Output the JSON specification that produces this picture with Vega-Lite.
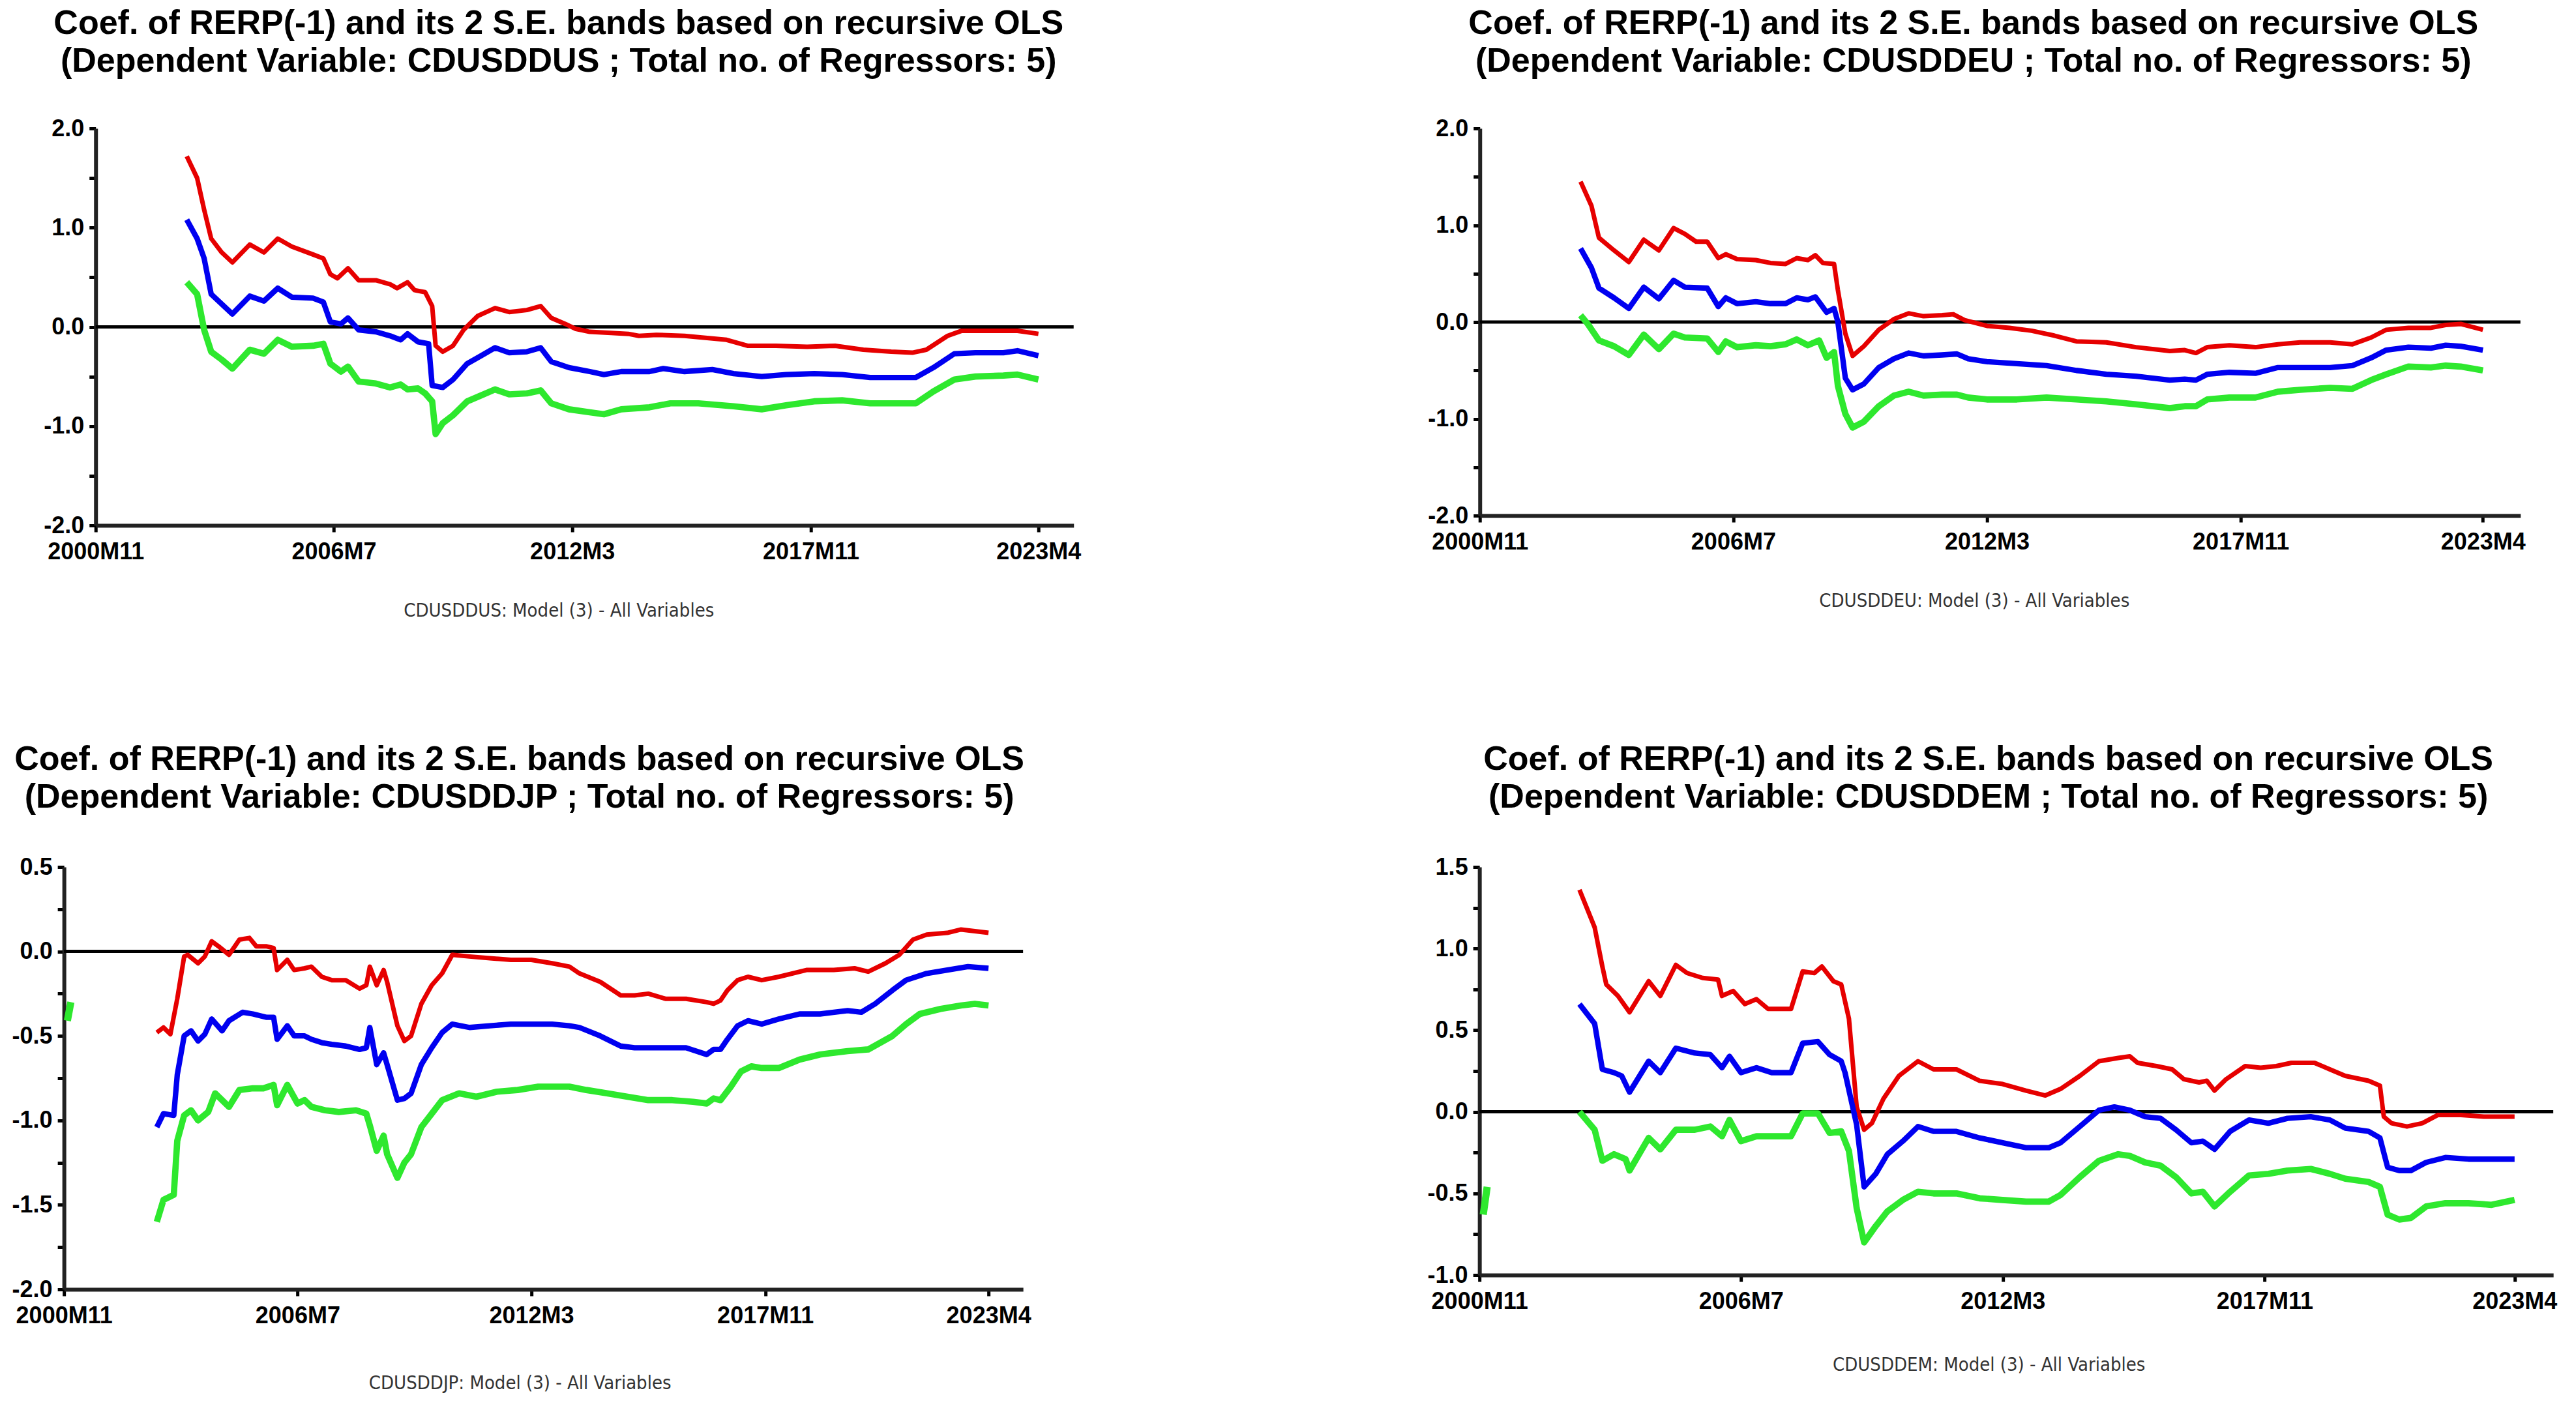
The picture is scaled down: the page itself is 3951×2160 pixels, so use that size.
{
  "$schema": "https://vega.github.io/schema/vega-lite/v6.json",
  "background": "white",
  "padding": {"left": 18, "top": 10, "right": 10, "bottom": 10},
  "config": {
    "view": {"stroke": null},
    "title": {"font": "Liberation Sans", "fontSize": 52, "fontWeight": "bold", "color": "black", "lineHeight": 58, "anchor": "middle"},
    "axis": {
      "grid": false,
      "domainColor": "#222222", "domainWidth": 6,
      "tickColor": "black", "tickWidth": 5, "tickSize": 10,
      "labelFont": "Liberation Sans", "labelFontSize": 36, "labelFontWeight": "bold", "labelColor": "black",
      "labelPadding": 8, "labelOverlap": false, "labelFlush": false,
      "titleFont": "Liberation Sans Narrow, DejaVu Sans Condensed, Liberation Sans", "titleFontSize": 29, "titleFontWeight": "normal", "titleColor": "#333333"
    },
    "axisX": {"labelPadding": 13}
  },
  "datasets": {
    "us": [
      {"s":"lower","d":"2003-01","v":0.45},{"s":"lower","d":"2003-04","v":0.33},{"s":"lower","d":"2003-06","v":-0.03},{"s":"lower","d":"2003-08","v":-0.25},{"s":"lower","d":"2003-11","v":-0.33},{"s":"lower","d":"2004-02","v":-0.42},{"s":"lower","d":"2004-07","v":-0.23},{"s":"lower","d":"2004-11","v":-0.27},{"s":"lower","d":"2005-03","v":-0.13},{"s":"lower","d":"2005-07","v":-0.20},{"s":"lower","d":"2006-01","v":-0.19},{"s":"lower","d":"2006-04","v":-0.17},{"s":"lower","d":"2006-06","v":-0.37},{"s":"lower","d":"2006-09","v":-0.45},{"s":"lower","d":"2006-11","v":-0.40},{"s":"lower","d":"2007-02","v":-0.55},{"s":"lower","d":"2007-07","v":-0.57},{"s":"lower","d":"2007-11","v":-0.61},{"s":"lower","d":"2008-02","v":-0.58},{"s":"lower","d":"2008-04","v":-0.63},{"s":"lower","d":"2008-07","v":-0.62},{"s":"lower","d":"2008-09","v":-0.67},{"s":"lower","d":"2008-11","v":-0.75},{"s":"lower","d":"2008-12","v":-1.08},{"s":"lower","d":"2009-02","v":-0.97},{"s":"lower","d":"2009-05","v":-0.89},{"s":"lower","d":"2009-09","v":-0.75},{"s":"lower","d":"2010-01","v":-0.69},{"s":"lower","d":"2010-05","v":-0.63},{"s":"lower","d":"2010-09","v":-0.68},{"s":"lower","d":"2011-02","v":-0.67},{"s":"lower","d":"2011-06","v":-0.64},{"s":"lower","d":"2011-09","v":-0.77},{"s":"lower","d":"2012-02","v":-0.83},{"s":"lower","d":"2012-08","v":-0.86},{"s":"lower","d":"2012-12","v":-0.88},{"s":"lower","d":"2013-05","v":-0.83},{"s":"lower","d":"2014-01","v":-0.81},{"s":"lower","d":"2014-07","v":-0.77},{"s":"lower","d":"2015-03","v":-0.77},{"s":"lower","d":"2016-01","v":-0.80},{"s":"lower","d":"2016-09","v":-0.83},{"s":"lower","d":"2017-04","v":-0.79},{"s":"lower","d":"2017-12","v":-0.75},{"s":"lower","d":"2018-08","v":-0.74},{"s":"lower","d":"2019-04","v":-0.77},{"s":"lower","d":"2019-12","v":-0.77},{"s":"lower","d":"2020-05","v":-0.77},{"s":"lower","d":"2020-10","v":-0.65},{"s":"lower","d":"2021-04","v":-0.53},{"s":"lower","d":"2021-10","v":-0.50},{"s":"lower","d":"2022-06","v":-0.49},{"s":"lower","d":"2022-10","v":-0.48},{"s":"lower","d":"2023-04","v":-0.53},
      {"s":"upper","d":"2003-01","v":1.72},{"s":"upper","d":"2003-04","v":1.50},{"s":"upper","d":"2003-06","v":1.18},{"s":"upper","d":"2003-08","v":0.89},{"s":"upper","d":"2003-11","v":0.75},{"s":"upper","d":"2004-02","v":0.65},{"s":"upper","d":"2004-07","v":0.83},{"s":"upper","d":"2004-11","v":0.75},{"s":"upper","d":"2005-03","v":0.89},{"s":"upper","d":"2005-07","v":0.81},{"s":"upper","d":"2006-01","v":0.73},{"s":"upper","d":"2006-04","v":0.69},{"s":"upper","d":"2006-06","v":0.53},{"s":"upper","d":"2006-08","v":0.49},{"s":"upper","d":"2006-11","v":0.59},{"s":"upper","d":"2007-02","v":0.47},{"s":"upper","d":"2007-07","v":0.47},{"s":"upper","d":"2007-11","v":0.43},{"s":"upper","d":"2008-01","v":0.39},{"s":"upper","d":"2008-04","v":0.45},{"s":"upper","d":"2008-06","v":0.37},{"s":"upper","d":"2008-09","v":0.35},{"s":"upper","d":"2008-11","v":0.21},{"s":"upper","d":"2008-12","v":-0.19},{"s":"upper","d":"2009-02","v":-0.25},{"s":"upper","d":"2009-05","v":-0.19},{"s":"upper","d":"2009-08","v":-0.03},{"s":"upper","d":"2009-12","v":0.11},{"s":"upper","d":"2010-05","v":0.19},{"s":"upper","d":"2010-09","v":0.15},{"s":"upper","d":"2011-02","v":0.17},{"s":"upper","d":"2011-06","v":0.21},{"s":"upper","d":"2011-09","v":0.09},{"s":"upper","d":"2012-01","v":0.03},{"s":"upper","d":"2012-04","v":-0.02},{"s":"upper","d":"2012-08","v":-0.05},{"s":"upper","d":"2013-02","v":-0.06},{"s":"upper","d":"2013-07","v":-0.07},{"s":"upper","d":"2013-10","v":-0.09},{"s":"upper","d":"2014-03","v":-0.08},{"s":"upper","d":"2014-11","v":-0.09},{"s":"upper","d":"2015-05","v":-0.11},{"s":"upper","d":"2015-11","v":-0.13},{"s":"upper","d":"2016-05","v":-0.19},{"s":"upper","d":"2017-01","v":-0.19},{"s":"upper","d":"2017-10","v":-0.20},{"s":"upper","d":"2018-06","v":-0.19},{"s":"upper","d":"2019-02","v":-0.23},{"s":"upper","d":"2019-10","v":-0.25},{"s":"upper","d":"2020-04","v":-0.26},{"s":"upper","d":"2020-08","v":-0.23},{"s":"upper","d":"2021-02","v":-0.09},{"s":"upper","d":"2021-06","v":-0.04},{"s":"upper","d":"2022-02","v":-0.04},{"s":"upper","d":"2022-10","v":-0.04},{"s":"upper","d":"2023-04","v":-0.07},
      {"s":"coef","d":"2003-01","v":1.08},{"s":"coef","d":"2003-04","v":0.89},{"s":"coef","d":"2003-06","v":0.69},{"s":"coef","d":"2003-08","v":0.33},{"s":"coef","d":"2003-11","v":0.23},{"s":"coef","d":"2004-02","v":0.13},{"s":"coef","d":"2004-07","v":0.31},{"s":"coef","d":"2004-11","v":0.26},{"s":"coef","d":"2005-03","v":0.39},{"s":"coef","d":"2005-07","v":0.30},{"s":"coef","d":"2006-01","v":0.29},{"s":"coef","d":"2006-04","v":0.25},{"s":"coef","d":"2006-06","v":0.05},{"s":"coef","d":"2006-09","v":0.03},{"s":"coef","d":"2006-11","v":0.09},{"s":"coef","d":"2007-02","v":-0.03},{"s":"coef","d":"2007-07","v":-0.05},{"s":"coef","d":"2007-11","v":-0.09},{"s":"coef","d":"2008-02","v":-0.13},{"s":"coef","d":"2008-04","v":-0.07},{"s":"coef","d":"2008-07","v":-0.15},{"s":"coef","d":"2008-10","v":-0.17},{"s":"coef","d":"2008-11","v":-0.59},{"s":"coef","d":"2009-02","v":-0.61},{"s":"coef","d":"2009-05","v":-0.53},{"s":"coef","d":"2009-09","v":-0.37},{"s":"coef","d":"2010-01","v":-0.29},{"s":"coef","d":"2010-05","v":-0.21},{"s":"coef","d":"2010-09","v":-0.26},{"s":"coef","d":"2011-02","v":-0.25},{"s":"coef","d":"2011-06","v":-0.21},{"s":"coef","d":"2011-09","v":-0.35},{"s":"coef","d":"2012-02","v":-0.41},{"s":"coef","d":"2012-08","v":-0.45},{"s":"coef","d":"2012-12","v":-0.48},{"s":"coef","d":"2013-05","v":-0.45},{"s":"coef","d":"2014-01","v":-0.45},{"s":"coef","d":"2014-05","v":-0.42},{"s":"coef","d":"2014-11","v":-0.45},{"s":"coef","d":"2015-07","v":-0.43},{"s":"coef","d":"2016-01","v":-0.47},{"s":"coef","d":"2016-09","v":-0.50},{"s":"coef","d":"2017-04","v":-0.48},{"s":"coef","d":"2017-12","v":-0.47},{"s":"coef","d":"2018-08","v":-0.48},{"s":"coef","d":"2019-04","v":-0.51},{"s":"coef","d":"2019-12","v":-0.51},{"s":"coef","d":"2020-05","v":-0.51},{"s":"coef","d":"2020-10","v":-0.41},{"s":"coef","d":"2021-04","v":-0.27},{"s":"coef","d":"2021-10","v":-0.26},{"s":"coef","d":"2022-06","v":-0.26},{"s":"coef","d":"2022-10","v":-0.24},{"s":"coef","d":"2023-04","v":-0.29}
    ],
    "eu": [
      {"s":"lower","d":"2003-02","v":0.07},{"s":"lower","d":"2003-04","v":-0.02},{"s":"lower","d":"2003-07","v":-0.19},{"s":"lower","d":"2003-11","v":-0.25},{"s":"lower","d":"2004-03","v":-0.34},{"s":"lower","d":"2004-07","v":-0.13},{"s":"lower","d":"2004-11","v":-0.28},{"s":"lower","d":"2005-03","v":-0.12},{"s":"lower","d":"2005-06","v":-0.16},{"s":"lower","d":"2005-12","v":-0.17},{"s":"lower","d":"2006-03","v":-0.31},{"s":"lower","d":"2006-05","v":-0.20},{"s":"lower","d":"2006-08","v":-0.26},{"s":"lower","d":"2007-01","v":-0.24},{"s":"lower","d":"2007-05","v":-0.25},{"s":"lower","d":"2007-09","v":-0.23},{"s":"lower","d":"2007-12","v":-0.18},{"s":"lower","d":"2008-03","v":-0.24},{"s":"lower","d":"2008-06","v":-0.19},{"s":"lower","d":"2008-08","v":-0.37},{"s":"lower","d":"2008-10","v":-0.31},{"s":"lower","d":"2008-11","v":-0.66},{"s":"lower","d":"2009-01","v":-0.95},{"s":"lower","d":"2009-03","v":-1.09},{"s":"lower","d":"2009-06","v":-1.03},{"s":"lower","d":"2009-10","v":-0.87},{"s":"lower","d":"2010-02","v":-0.76},{"s":"lower","d":"2010-06","v":-0.72},{"s":"lower","d":"2010-10","v":-0.76},{"s":"lower","d":"2011-03","v":-0.75},{"s":"lower","d":"2011-07","v":-0.75},{"s":"lower","d":"2011-10","v":-0.78},{"s":"lower","d":"2012-03","v":-0.80},{"s":"lower","d":"2012-11","v":-0.80},{"s":"lower","d":"2013-07","v":-0.78},{"s":"lower","d":"2014-03","v":-0.80},{"s":"lower","d":"2014-11","v":-0.82},{"s":"lower","d":"2015-07","v":-0.85},{"s":"lower","d":"2016-04","v":-0.89},{"s":"lower","d":"2016-08","v":-0.87},{"s":"lower","d":"2016-11","v":-0.87},{"s":"lower","d":"2017-02","v":-0.80},{"s":"lower","d":"2017-08","v":-0.78},{"s":"lower","d":"2018-03","v":-0.78},{"s":"lower","d":"2018-09","v":-0.72},{"s":"lower","d":"2019-03","v":-0.70},{"s":"lower","d":"2019-11","v":-0.68},{"s":"lower","d":"2020-05","v":-0.69},{"s":"lower","d":"2020-10","v":-0.60},{"s":"lower","d":"2021-02","v":-0.54},{"s":"lower","d":"2021-08","v":-0.46},{"s":"lower","d":"2022-02","v":-0.47},{"s":"lower","d":"2022-06","v":-0.45},{"s":"lower","d":"2022-10","v":-0.46},{"s":"lower","d":"2023-04","v":-0.50},
      {"s":"upper","d":"2003-02","v":1.45},{"s":"upper","d":"2003-05","v":1.20},{"s":"upper","d":"2003-07","v":0.87},{"s":"upper","d":"2003-11","v":0.74},{"s":"upper","d":"2004-03","v":0.62},{"s":"upper","d":"2004-07","v":0.85},{"s":"upper","d":"2004-11","v":0.74},{"s":"upper","d":"2005-03","v":0.97},{"s":"upper","d":"2005-06","v":0.91},{"s":"upper","d":"2005-09","v":0.83},{"s":"upper","d":"2005-12","v":0.83},{"s":"upper","d":"2006-03","v":0.66},{"s":"upper","d":"2006-05","v":0.70},{"s":"upper","d":"2006-08","v":0.65},{"s":"upper","d":"2007-01","v":0.64},{"s":"upper","d":"2007-05","v":0.61},{"s":"upper","d":"2007-09","v":0.60},{"s":"upper","d":"2007-12","v":0.66},{"s":"upper","d":"2008-03","v":0.64},{"s":"upper","d":"2008-05","v":0.69},{"s":"upper","d":"2008-07","v":0.61},{"s":"upper","d":"2008-10","v":0.60},{"s":"upper","d":"2008-11","v":0.33},{"s":"upper","d":"2009-01","v":-0.12},{"s":"upper","d":"2009-03","v":-0.35},{"s":"upper","d":"2009-06","v":-0.25},{"s":"upper","d":"2009-10","v":-0.08},{"s":"upper","d":"2010-02","v":0.03},{"s":"upper","d":"2010-06","v":0.09},{"s":"upper","d":"2010-10","v":0.06},{"s":"upper","d":"2011-03","v":0.07},{"s":"upper","d":"2011-06","v":0.08},{"s":"upper","d":"2011-09","v":0.02},{"s":"upper","d":"2012-03","v":-0.04},{"s":"upper","d":"2012-09","v":-0.06},{"s":"upper","d":"2013-03","v":-0.09},{"s":"upper","d":"2013-09","v":-0.14},{"s":"upper","d":"2014-03","v":-0.20},{"s":"upper","d":"2014-11","v":-0.21},{"s":"upper","d":"2015-07","v":-0.26},{"s":"upper","d":"2016-04","v":-0.30},{"s":"upper","d":"2016-08","v":-0.29},{"s":"upper","d":"2016-11","v":-0.32},{"s":"upper","d":"2017-02","v":-0.26},{"s":"upper","d":"2017-08","v":-0.24},{"s":"upper","d":"2018-03","v":-0.26},{"s":"upper","d":"2018-09","v":-0.23},{"s":"upper","d":"2019-03","v":-0.21},{"s":"upper","d":"2019-11","v":-0.21},{"s":"upper","d":"2020-05","v":-0.23},{"s":"upper","d":"2020-10","v":-0.16},{"s":"upper","d":"2021-02","v":-0.08},{"s":"upper","d":"2021-08","v":-0.06},{"s":"upper","d":"2022-02","v":-0.06},{"s":"upper","d":"2022-06","v":-0.03},{"s":"upper","d":"2022-10","v":-0.02},{"s":"upper","d":"2023-04","v":-0.08},
      {"s":"coef","d":"2003-02","v":0.76},{"s":"coef","d":"2003-05","v":0.56},{"s":"coef","d":"2003-07","v":0.35},{"s":"coef","d":"2003-11","v":0.25},{"s":"coef","d":"2004-03","v":0.14},{"s":"coef","d":"2004-07","v":0.36},{"s":"coef","d":"2004-11","v":0.24},{"s":"coef","d":"2005-03","v":0.43},{"s":"coef","d":"2005-06","v":0.36},{"s":"coef","d":"2005-12","v":0.35},{"s":"coef","d":"2006-03","v":0.16},{"s":"coef","d":"2006-05","v":0.25},{"s":"coef","d":"2006-08","v":0.19},{"s":"coef","d":"2007-01","v":0.21},{"s":"coef","d":"2007-05","v":0.19},{"s":"coef","d":"2007-09","v":0.19},{"s":"coef","d":"2007-12","v":0.25},{"s":"coef","d":"2008-03","v":0.23},{"s":"coef","d":"2008-05","v":0.26},{"s":"coef","d":"2008-08","v":0.10},{"s":"coef","d":"2008-10","v":0.14},{"s":"coef","d":"2008-11","v":0.00},{"s":"coef","d":"2009-01","v":-0.58},{"s":"coef","d":"2009-03","v":-0.70},{"s":"coef","d":"2009-06","v":-0.64},{"s":"coef","d":"2009-10","v":-0.47},{"s":"coef","d":"2010-02","v":-0.38},{"s":"coef","d":"2010-06","v":-0.32},{"s":"coef","d":"2010-10","v":-0.35},{"s":"coef","d":"2011-03","v":-0.34},{"s":"coef","d":"2011-07","v":-0.33},{"s":"coef","d":"2011-10","v":-0.38},{"s":"coef","d":"2012-03","v":-0.41},{"s":"coef","d":"2012-11","v":-0.43},{"s":"coef","d":"2013-07","v":-0.45},{"s":"coef","d":"2014-03","v":-0.50},{"s":"coef","d":"2014-11","v":-0.54},{"s":"coef","d":"2015-07","v":-0.56},{"s":"coef","d":"2016-04","v":-0.60},{"s":"coef","d":"2016-08","v":-0.59},{"s":"coef","d":"2016-11","v":-0.60},{"s":"coef","d":"2017-02","v":-0.54},{"s":"coef","d":"2017-08","v":-0.52},{"s":"coef","d":"2018-03","v":-0.53},{"s":"coef","d":"2018-09","v":-0.47},{"s":"coef","d":"2019-03","v":-0.47},{"s":"coef","d":"2019-11","v":-0.47},{"s":"coef","d":"2020-05","v":-0.45},{"s":"coef","d":"2020-10","v":-0.37},{"s":"coef","d":"2021-02","v":-0.29},{"s":"coef","d":"2021-08","v":-0.26},{"s":"coef","d":"2022-02","v":-0.27},{"s":"coef","d":"2022-06","v":-0.24},{"s":"coef","d":"2022-10","v":-0.25},{"s":"coef","d":"2023-04","v":-0.29}
    ],
    "jp": [
      {"s":"lower0","d":"2000-12","v":-0.41},{"s":"lower0","d":"2001-01","v":-0.30},
      {"s":"lower","d":"2003-02","v":-1.60},{"s":"lower","d":"2003-04","v":-1.47},{"s":"lower","d":"2003-07","v":-1.44},{"s":"lower","d":"2003-08","v":-1.12},{"s":"lower","d":"2003-10","v":-0.97},{"s":"lower","d":"2003-12","v":-0.94},{"s":"lower","d":"2004-02","v":-1.00},{"s":"lower","d":"2004-05","v":-0.95},{"s":"lower","d":"2004-07","v":-0.84},{"s":"lower","d":"2004-11","v":-0.92},{"s":"lower","d":"2005-02","v":-0.82},{"s":"lower","d":"2005-06","v":-0.81},{"s":"lower","d":"2005-09","v":-0.81},{"s":"lower","d":"2005-12","v":-0.79},{"s":"lower","d":"2006-01","v":-0.91},{"s":"lower","d":"2006-04","v":-0.79},{"s":"lower","d":"2006-07","v":-0.90},{"s":"lower","d":"2006-09","v":-0.88},{"s":"lower","d":"2006-11","v":-0.92},{"s":"lower","d":"2007-03","v":-0.94},{"s":"lower","d":"2007-07","v":-0.95},{"s":"lower","d":"2007-12","v":-0.94},{"s":"lower","d":"2008-03","v":-0.96},{"s":"lower","d":"2008-04","v":-1.03},{"s":"lower","d":"2008-06","v":-1.18},{"s":"lower","d":"2008-08","v":-1.09},{"s":"lower","d":"2008-09","v":-1.20},{"s":"lower","d":"2008-12","v":-1.34},{"s":"lower","d":"2009-02","v":-1.25},{"s":"lower","d":"2009-04","v":-1.20},{"s":"lower","d":"2009-07","v":-1.04},{"s":"lower","d":"2009-10","v":-0.96},{"s":"lower","d":"2010-01","v":-0.88},{"s":"lower","d":"2010-06","v":-0.84},{"s":"lower","d":"2010-11","v":-0.86},{"s":"lower","d":"2011-05","v":-0.83},{"s":"lower","d":"2011-11","v":-0.82},{"s":"lower","d":"2012-05","v":-0.80},{"s":"lower","d":"2013-02","v":-0.80},{"s":"lower","d":"2013-07","v":-0.82},{"s":"lower","d":"2014-01","v":-0.84},{"s":"lower","d":"2014-07","v":-0.86},{"s":"lower","d":"2015-01","v":-0.88},{"s":"lower","d":"2015-08","v":-0.88},{"s":"lower","d":"2016-02","v":-0.89},{"s":"lower","d":"2016-06","v":-0.90},{"s":"lower","d":"2016-08","v":-0.87},{"s":"lower","d":"2016-10","v":-0.88},{"s":"lower","d":"2017-01","v":-0.80},{"s":"lower","d":"2017-04","v":-0.71},{"s":"lower","d":"2017-07","v":-0.68},{"s":"lower","d":"2017-10","v":-0.69},{"s":"lower","d":"2018-03","v":-0.69},{"s":"lower","d":"2018-09","v":-0.64},{"s":"lower","d":"2019-03","v":-0.61},{"s":"lower","d":"2019-11","v":-0.59},{"s":"lower","d":"2020-05","v":-0.58},{"s":"lower","d":"2020-12","v":-0.50},{"s":"lower","d":"2021-04","v":-0.43},{"s":"lower","d":"2021-08","v":-0.37},{"s":"lower","d":"2022-02","v":-0.34},{"s":"lower","d":"2022-08","v":-0.32},{"s":"lower","d":"2022-12","v":-0.31},{"s":"lower","d":"2023-04","v":-0.32},
      {"s":"upper","d":"2003-02","v":-0.48},{"s":"upper","d":"2003-04","v":-0.45},{"s":"upper","d":"2003-06","v":-0.49},{"s":"upper","d":"2003-08","v":-0.28},{"s":"upper","d":"2003-10","v":-0.03},{"s":"upper","d":"2003-11","v":-0.02},{"s":"upper","d":"2004-02","v":-0.07},{"s":"upper","d":"2004-04","v":-0.03},{"s":"upper","d":"2004-06","v":0.06},{"s":"upper","d":"2004-08","v":0.03},{"s":"upper","d":"2004-11","v":-0.02},{"s":"upper","d":"2005-02","v":0.07},{"s":"upper","d":"2005-05","v":0.08},{"s":"upper","d":"2005-07","v":0.03},{"s":"upper","d":"2005-10","v":0.03},{"s":"upper","d":"2005-12","v":0.02},{"s":"upper","d":"2006-01","v":-0.11},{"s":"upper","d":"2006-04","v":-0.05},{"s":"upper","d":"2006-06","v":-0.11},{"s":"upper","d":"2006-09","v":-0.10},{"s":"upper","d":"2006-11","v":-0.09},{"s":"upper","d":"2007-02","v":-0.15},{"s":"upper","d":"2007-05","v":-0.17},{"s":"upper","d":"2007-09","v":-0.17},{"s":"upper","d":"2008-01","v":-0.22},{"s":"upper","d":"2008-03","v":-0.20},{"s":"upper","d":"2008-04","v":-0.09},{"s":"upper","d":"2008-06","v":-0.20},{"s":"upper","d":"2008-08","v":-0.11},{"s":"upper","d":"2008-09","v":-0.18},{"s":"upper","d":"2008-12","v":-0.44},{"s":"upper","d":"2009-02","v":-0.53},{"s":"upper","d":"2009-04","v":-0.50},{"s":"upper","d":"2009-07","v":-0.31},{"s":"upper","d":"2009-10","v":-0.20},{"s":"upper","d":"2010-01","v":-0.13},{"s":"upper","d":"2010-04","v":-0.02},{"s":"upper","d":"2010-09","v":-0.03},{"s":"upper","d":"2011-03","v":-0.04},{"s":"upper","d":"2011-09","v":-0.05},{"s":"upper","d":"2012-03","v":-0.05},{"s":"upper","d":"2012-09","v":-0.07},{"s":"upper","d":"2013-02","v":-0.09},{"s":"upper","d":"2013-05","v":-0.13},{"s":"upper","d":"2013-11","v":-0.18},{"s":"upper","d":"2014-05","v":-0.26},{"s":"upper","d":"2014-09","v":-0.26},{"s":"upper","d":"2015-01","v":-0.25},{"s":"upper","d":"2015-06","v":-0.28},{"s":"upper","d":"2015-12","v":-0.28},{"s":"upper","d":"2016-06","v":-0.30},{"s":"upper","d":"2016-08","v":-0.31},{"s":"upper","d":"2016-10","v":-0.29},{"s":"upper","d":"2016-12","v":-0.23},{"s":"upper","d":"2017-03","v":-0.17},{"s":"upper","d":"2017-06","v":-0.15},{"s":"upper","d":"2017-10","v":-0.17},{"s":"upper","d":"2018-03","v":-0.15},{"s":"upper","d":"2018-11","v":-0.11},{"s":"upper","d":"2019-07","v":-0.11},{"s":"upper","d":"2020-01","v":-0.10},{"s":"upper","d":"2020-05","v":-0.12},{"s":"upper","d":"2020-10","v":-0.07},{"s":"upper","d":"2021-02","v":-0.02},{"s":"upper","d":"2021-06","v":0.07},{"s":"upper","d":"2021-10","v":0.10},{"s":"upper","d":"2022-04","v":0.11},{"s":"upper","d":"2022-08","v":0.13},{"s":"upper","d":"2022-12","v":0.12},{"s":"upper","d":"2023-04","v":0.11},
      {"s":"coef","d":"2003-02","v":-1.04},{"s":"coef","d":"2003-04","v":-0.96},{"s":"coef","d":"2003-07","v":-0.97},{"s":"coef","d":"2003-08","v":-0.73},{"s":"coef","d":"2003-10","v":-0.50},{"s":"coef","d":"2003-12","v":-0.47},{"s":"coef","d":"2004-02","v":-0.53},{"s":"coef","d":"2004-04","v":-0.49},{"s":"coef","d":"2004-06","v":-0.40},{"s":"coef","d":"2004-09","v":-0.47},{"s":"coef","d":"2004-11","v":-0.41},{"s":"coef","d":"2005-03","v":-0.36},{"s":"coef","d":"2005-06","v":-0.37},{"s":"coef","d":"2005-10","v":-0.39},{"s":"coef","d":"2005-12","v":-0.39},{"s":"coef","d":"2006-01","v":-0.52},{"s":"coef","d":"2006-04","v":-0.44},{"s":"coef","d":"2006-06","v":-0.50},{"s":"coef","d":"2006-09","v":-0.50},{"s":"coef","d":"2006-11","v":-0.52},{"s":"coef","d":"2007-02","v":-0.54},{"s":"coef","d":"2007-05","v":-0.55},{"s":"coef","d":"2007-09","v":-0.56},{"s":"coef","d":"2008-01","v":-0.58},{"s":"coef","d":"2008-03","v":-0.57},{"s":"coef","d":"2008-04","v":-0.45},{"s":"coef","d":"2008-06","v":-0.67},{"s":"coef","d":"2008-08","v":-0.60},{"s":"coef","d":"2008-09","v":-0.67},{"s":"coef","d":"2008-12","v":-0.88},{"s":"coef","d":"2009-02","v":-0.87},{"s":"coef","d":"2009-04","v":-0.84},{"s":"coef","d":"2009-07","v":-0.67},{"s":"coef","d":"2009-10","v":-0.57},{"s":"coef","d":"2010-01","v":-0.48},{"s":"coef","d":"2010-04","v":-0.43},{"s":"coef","d":"2010-09","v":-0.45},{"s":"coef","d":"2011-03","v":-0.44},{"s":"coef","d":"2011-09","v":-0.43},{"s":"coef","d":"2012-03","v":-0.43},{"s":"coef","d":"2012-09","v":-0.43},{"s":"coef","d":"2013-02","v":-0.44},{"s":"coef","d":"2013-05","v":-0.45},{"s":"coef","d":"2013-11","v":-0.50},{"s":"coef","d":"2014-05","v":-0.56},{"s":"coef","d":"2014-09","v":-0.57},{"s":"coef","d":"2015-01","v":-0.57},{"s":"coef","d":"2015-06","v":-0.57},{"s":"coef","d":"2015-12","v":-0.57},{"s":"coef","d":"2016-06","v":-0.61},{"s":"coef","d":"2016-08","v":-0.58},{"s":"coef","d":"2016-10","v":-0.58},{"s":"coef","d":"2016-12","v":-0.52},{"s":"coef","d":"2017-03","v":-0.44},{"s":"coef","d":"2017-06","v":-0.41},{"s":"coef","d":"2017-10","v":-0.43},{"s":"coef","d":"2018-03","v":-0.40},{"s":"coef","d":"2018-09","v":-0.37},{"s":"coef","d":"2019-03","v":-0.37},{"s":"coef","d":"2019-11","v":-0.35},{"s":"coef","d":"2020-03","v":-0.36},{"s":"coef","d":"2020-07","v":-0.31},{"s":"coef","d":"2020-12","v":-0.23},{"s":"coef","d":"2021-04","v":-0.17},{"s":"coef","d":"2021-10","v":-0.13},{"s":"coef","d":"2022-04","v":-0.11},{"s":"coef","d":"2022-10","v":-0.09},{"s":"coef","d":"2023-04","v":-0.10}
    ],
    "em": [
      {"s":"lower0","d":"2000-12","v":-0.63},{"s":"lower0","d":"2001-01","v":-0.46},
      {"s":"lower","d":"2003-01","v":0.00},{"s":"lower","d":"2003-05","v":-0.11},{"s":"lower","d":"2003-07","v":-0.30},{"s":"lower","d":"2003-10","v":-0.26},{"s":"lower","d":"2004-01","v":-0.29},{"s":"lower","d":"2004-02","v":-0.36},{"s":"lower","d":"2004-07","v":-0.16},{"s":"lower","d":"2004-10","v":-0.23},{"s":"lower","d":"2005-02","v":-0.11},{"s":"lower","d":"2005-07","v":-0.11},{"s":"lower","d":"2005-11","v":-0.09},{"s":"lower","d":"2006-02","v":-0.15},{"s":"lower","d":"2006-04","v":-0.05},{"s":"lower","d":"2006-07","v":-0.18},{"s":"lower","d":"2006-11","v":-0.15},{"s":"lower","d":"2007-03","v":-0.15},{"s":"lower","d":"2007-08","v":-0.15},{"s":"lower","d":"2007-11","v":-0.01},{"s":"lower","d":"2008-03","v":-0.01},{"s":"lower","d":"2008-06","v":-0.13},{"s":"lower","d":"2008-09","v":-0.12},{"s":"lower","d":"2008-11","v":-0.24},{"s":"lower","d":"2009-01","v":-0.59},{"s":"lower","d":"2009-03","v":-0.80},{"s":"lower","d":"2009-06","v":-0.70},{"s":"lower","d":"2009-09","v":-0.61},{"s":"lower","d":"2010-01","v":-0.54},{"s":"lower","d":"2010-05","v":-0.49},{"s":"lower","d":"2010-09","v":-0.50},{"s":"lower","d":"2011-03","v":-0.50},{"s":"lower","d":"2011-09","v":-0.53},{"s":"lower","d":"2012-03","v":-0.54},{"s":"lower","d":"2012-09","v":-0.55},{"s":"lower","d":"2013-03","v":-0.55},{"s":"lower","d":"2013-06","v":-0.51},{"s":"lower","d":"2013-11","v":-0.40},{"s":"lower","d":"2014-04","v":-0.30},{"s":"lower","d":"2014-09","v":-0.26},{"s":"lower","d":"2014-12","v":-0.27},{"s":"lower","d":"2015-04","v":-0.31},{"s":"lower","d":"2015-08","v":-0.33},{"s":"lower","d":"2015-12","v":-0.40},{"s":"lower","d":"2016-04","v":-0.50},{"s":"lower","d":"2016-07","v":-0.49},{"s":"lower","d":"2016-10","v":-0.58},{"s":"lower","d":"2017-02","v":-0.49},{"s":"lower","d":"2017-07","v":-0.39},{"s":"lower","d":"2017-12","v":-0.38},{"s":"lower","d":"2018-05","v":-0.36},{"s":"lower","d":"2018-11","v":-0.35},{"s":"lower","d":"2019-04","v":-0.38},{"s":"lower","d":"2019-08","v":-0.41},{"s":"lower","d":"2020-02","v":-0.43},{"s":"lower","d":"2020-05","v":-0.46},{"s":"lower","d":"2020-07","v":-0.63},{"s":"lower","d":"2020-10","v":-0.66},{"s":"lower","d":"2021-01","v":-0.65},{"s":"lower","d":"2021-05","v":-0.58},{"s":"lower","d":"2021-10","v":-0.56},{"s":"lower","d":"2022-04","v":-0.56},{"s":"lower","d":"2022-10","v":-0.57},{"s":"lower","d":"2023-04","v":-0.54},
      {"s":"upper","d":"2003-01","v":1.36},{"s":"upper","d":"2003-05","v":1.13},{"s":"upper","d":"2003-07","v":0.89},{"s":"upper","d":"2003-08","v":0.78},{"s":"upper","d":"2003-11","v":0.71},{"s":"upper","d":"2004-02","v":0.61},{"s":"upper","d":"2004-07","v":0.80},{"s":"upper","d":"2004-10","v":0.71},{"s":"upper","d":"2005-02","v":0.90},{"s":"upper","d":"2005-05","v":0.85},{"s":"upper","d":"2005-09","v":0.82},{"s":"upper","d":"2006-01","v":0.81},{"s":"upper","d":"2006-02","v":0.71},{"s":"upper","d":"2006-05","v":0.74},{"s":"upper","d":"2006-08","v":0.66},{"s":"upper","d":"2006-11","v":0.69},{"s":"upper","d":"2007-02","v":0.63},{"s":"upper","d":"2007-08","v":0.63},{"s":"upper","d":"2007-11","v":0.86},{"s":"upper","d":"2008-02","v":0.85},{"s":"upper","d":"2008-04","v":0.89},{"s":"upper","d":"2008-07","v":0.80},{"s":"upper","d":"2008-09","v":0.78},{"s":"upper","d":"2008-11","v":0.57},{"s":"upper","d":"2009-01","v":0.03},{"s":"upper","d":"2009-03","v":-0.11},{"s":"upper","d":"2009-05","v":-0.07},{"s":"upper","d":"2009-08","v":0.08},{"s":"upper","d":"2009-12","v":0.22},{"s":"upper","d":"2010-05","v":0.31},{"s":"upper","d":"2010-09","v":0.26},{"s":"upper","d":"2011-03","v":0.26},{"s":"upper","d":"2011-09","v":0.19},{"s":"upper","d":"2012-03","v":0.17},{"s":"upper","d":"2012-09","v":0.13},{"s":"upper","d":"2013-02","v":0.10},{"s":"upper","d":"2013-06","v":0.14},{"s":"upper","d":"2013-11","v":0.22},{"s":"upper","d":"2014-04","v":0.31},{"s":"upper","d":"2014-09","v":0.33},{"s":"upper","d":"2014-12","v":0.34},{"s":"upper","d":"2015-02","v":0.30},{"s":"upper","d":"2015-07","v":0.28},{"s":"upper","d":"2015-11","v":0.26},{"s":"upper","d":"2016-02","v":0.20},{"s":"upper","d":"2016-06","v":0.18},{"s":"upper","d":"2016-08","v":0.19},{"s":"upper","d":"2016-10","v":0.13},{"s":"upper","d":"2017-01","v":0.20},{"s":"upper","d":"2017-06","v":0.28},{"s":"upper","d":"2017-10","v":0.27},{"s":"upper","d":"2018-02","v":0.28},{"s":"upper","d":"2018-06","v":0.30},{"s":"upper","d":"2018-12","v":0.30},{"s":"upper","d":"2019-04","v":0.26},{"s":"upper","d":"2019-08","v":0.22},{"s":"upper","d":"2020-02","v":0.19},{"s":"upper","d":"2020-05","v":0.16},{"s":"upper","d":"2020-06","v":-0.03},{"s":"upper","d":"2020-08","v":-0.07},{"s":"upper","d":"2020-12","v":-0.09},{"s":"upper","d":"2021-04","v":-0.07},{"s":"upper","d":"2021-08","v":-0.02},{"s":"upper","d":"2022-02","v":-0.02},{"s":"upper","d":"2022-08","v":-0.03},{"s":"upper","d":"2023-04","v":-0.03},
      {"s":"coef","d":"2003-01","v":0.66},{"s":"coef","d":"2003-05","v":0.54},{"s":"coef","d":"2003-07","v":0.26},{"s":"coef","d":"2003-10","v":0.24},{"s":"coef","d":"2003-12","v":0.22},{"s":"coef","d":"2004-02","v":0.12},{"s":"coef","d":"2004-07","v":0.31},{"s":"coef","d":"2004-10","v":0.24},{"s":"coef","d":"2005-02","v":0.39},{"s":"coef","d":"2005-07","v":0.36},{"s":"coef","d":"2005-11","v":0.35},{"s":"coef","d":"2006-02","v":0.27},{"s":"coef","d":"2006-04","v":0.34},{"s":"coef","d":"2006-07","v":0.24},{"s":"coef","d":"2006-11","v":0.27},{"s":"coef","d":"2007-03","v":0.24},{"s":"coef","d":"2007-08","v":0.24},{"s":"coef","d":"2007-11","v":0.42},{"s":"coef","d":"2008-03","v":0.43},{"s":"coef","d":"2008-06","v":0.35},{"s":"coef","d":"2008-09","v":0.31},{"s":"coef","d":"2008-10","v":0.24},{"s":"coef","d":"2009-01","v":-0.08},{"s":"coef","d":"2009-03","v":-0.46},{"s":"coef","d":"2009-06","v":-0.38},{"s":"coef","d":"2009-09","v":-0.26},{"s":"coef","d":"2010-01","v":-0.18},{"s":"coef","d":"2010-05","v":-0.09},{"s":"coef","d":"2010-09","v":-0.12},{"s":"coef","d":"2011-03","v":-0.12},{"s":"coef","d":"2011-09","v":-0.16},{"s":"coef","d":"2012-03","v":-0.19},{"s":"coef","d":"2012-09","v":-0.22},{"s":"coef","d":"2013-03","v":-0.22},{"s":"coef","d":"2013-06","v":-0.19},{"s":"coef","d":"2013-11","v":-0.09},{"s":"coef","d":"2014-04","v":0.01},{"s":"coef","d":"2014-08","v":0.03},{"s":"coef","d":"2014-12","v":0.01},{"s":"coef","d":"2015-04","v":-0.03},{"s":"coef","d":"2015-08","v":-0.04},{"s":"coef","d":"2015-12","v":-0.11},{"s":"coef","d":"2016-04","v":-0.19},{"s":"coef","d":"2016-07","v":-0.18},{"s":"coef","d":"2016-10","v":-0.23},{"s":"coef","d":"2017-02","v":-0.12},{"s":"coef","d":"2017-07","v":-0.05},{"s":"coef","d":"2017-12","v":-0.07},{"s":"coef","d":"2018-05","v":-0.04},{"s":"coef","d":"2018-11","v":-0.03},{"s":"coef","d":"2019-04","v":-0.05},{"s":"coef","d":"2019-08","v":-0.10},{"s":"coef","d":"2020-02","v":-0.12},{"s":"coef","d":"2020-05","v":-0.16},{"s":"coef","d":"2020-07","v":-0.34},{"s":"coef","d":"2020-10","v":-0.36},{"s":"coef","d":"2021-01","v":-0.36},{"s":"coef","d":"2021-05","v":-0.31},{"s":"coef","d":"2021-10","v":-0.28},{"s":"coef","d":"2022-04","v":-0.29},{"s":"coef","d":"2022-10","v":-0.29},{"s":"coef","d":"2023-04","v":-0.29}
    ]
  },
  "vconcat": [
    {
      "hconcat": [
        {
          "width": 1500, "height": 609,
          "title": {"text": ["Coef. of RERP(-1) and its 2 S.E. bands based on recursive OLS", "(Dependent Variable: CDUSDDUS ; Total no. of Regressors: 5)"], "dx": -40, "offset": 58},
          "layer": [
            {"data": {"values": [{}]}, "mark": {"type": "rule", "color": "black", "strokeWidth": 5}, "encoding": {"y": {"datum": 0, "type": "quantitative"}}},
            {
              "data": {"name": "us"},
              "mark": {"type": "line", "strokeJoin": "round"},
              "encoding": {
                "x": {"field": "d", "type": "temporal", "scale": {"type": "utc", "domain": [{"year": 2000, "month": 11, "date": 1, "utc": true}, {"year": 2024, "month": 2, "date": 1, "utc": true}]},
                  "axis": {"values": [{"year": 2000, "month": 11, "date": 1, "utc": true}, {"year": 2006, "month": 7, "date": 1, "utc": true}, {"year": 2012, "month": 3, "date": 1, "utc": true}, {"year": 2017, "month": 11, "date": 1, "utc": true}, {"year": 2023, "month": 4, "date": 1, "utc": true}], "labelExpr": "utcFormat(datum.value, '%Y') + 'M' + (utcmonth(datum.value) + 1)",
                    "title": "CDUSDDUS: Model (3) - All Variables", "titleX": 710, "titleY": 130, "titleAlign": "center", "titleBaseline": "middle"}},
                "y": {"field": "v", "type": "quantitative", "scale": {"domain": [-2, 2], "nice": false, "zero": false},
                  "axis": {"values": [-2, -1.5, -1, -0.5, 0, 0.5, 1, 1.5, 2], "labelExpr": "datum.value % 1 == 0 ? (datum.value < 0 ? '-' : '') + format(abs(datum.value), '.1f') : ''", "title": null}},
                "color": {"field": "s", "type": "nominal", "scale": {"domain": ["upper", "coef", "lower", "lower0"], "range": ["#e60000", "#0000f0", "#2ee82e", "#2ee82e"]}, "legend": null},
                "strokeWidth": {"field": "s", "type": "nominal", "scale": {"domain": ["upper", "coef", "lower", "lower0"], "range": [7, 11, 4, 4]}, "legend": null}
              }
            }
          ]
        },
        {
          "width": 1596, "height": 594,
          "title": {"text": ["Coef. of RERP(-1) and its 2 S.E. bands based on recursive OLS", "(Dependent Variable: CDUSDDEU ; Total no. of Regressors: 5)"], "dx": -41, "offset": 58},
          "layer": [
            {"data": {"values": [{}]}, "mark": {"type": "rule", "color": "black", "strokeWidth": 5}, "encoding": {"y": {"datum": 0, "type": "quantitative"}}},
            {
              "data": {"name": "eu"},
              "mark": {"type": "line", "strokeJoin": "round"},
              "encoding": {
                "x": {"field": "d", "type": "temporal", "scale": {"type": "utc", "domain": [{"year": 2000, "month": 11, "date": 1, "utc": true}, {"year": 2024, "month": 2, "date": 1, "utc": true}]},
                  "axis": {"values": [{"year": 2000, "month": 11, "date": 1, "utc": true}, {"year": 2006, "month": 7, "date": 1, "utc": true}, {"year": 2012, "month": 3, "date": 1, "utc": true}, {"year": 2017, "month": 11, "date": 1, "utc": true}, {"year": 2023, "month": 4, "date": 1, "utc": true}], "labelExpr": "utcFormat(datum.value, '%Y') + 'M' + (utcmonth(datum.value) + 1)",
                    "title": "CDUSDDEU: Model (3) - All Variables", "titleX": 758, "titleY": 130, "titleAlign": "center", "titleBaseline": "middle"}},
                "y": {"field": "v", "type": "quantitative", "scale": {"domain": [-2, 2], "nice": false, "zero": false},
                  "axis": {"values": [-2, -1.5, -1, -0.5, 0, 0.5, 1, 1.5, 2], "labelExpr": "datum.value % 1 == 0 ? (datum.value < 0 ? '-' : '') + format(abs(datum.value), '.1f') : ''", "title": null}},
                "color": {"field": "s", "type": "nominal", "scale": {"domain": ["upper", "coef", "lower", "lower0"], "range": ["#e60000", "#0000f0", "#2ee82e", "#2ee82e"]}, "legend": null},
                "strokeWidth": {"field": "s", "type": "nominal", "scale": {"domain": ["upper", "coef", "lower", "lower0"], "range": [7, 11, 4, 4]}, "legend": null}
              }
            }
          ]
        }
      ],
      "spacing": 623, "bounds": "flush"
    },
    {
      "hconcat": [
        {
          "width": 1471, "height": 648,
          "title": {"text": ["Coef. of RERP(-1) and its 2 S.E. bands based on recursive OLS", "(Dependent Variable: CDUSDDJP ; Total no. of Regressors: 5)"], "dx": -37, "offset": 62},
          "layer": [
            {"data": {"values": [{}]}, "mark": {"type": "rule", "color": "black", "strokeWidth": 5}, "encoding": {"y": {"datum": 0, "type": "quantitative"}}},
            {
              "data": {"name": "jp"},
              "mark": {"type": "line", "strokeJoin": "round"},
              "encoding": {
                "x": {"field": "d", "type": "temporal", "scale": {"type": "utc", "domain": [{"year": 2000, "month": 11, "date": 1, "utc": true}, {"year": 2024, "month": 2, "date": 1, "utc": true}]},
                  "axis": {"values": [{"year": 2000, "month": 11, "date": 1, "utc": true}, {"year": 2006, "month": 7, "date": 1, "utc": true}, {"year": 2012, "month": 3, "date": 1, "utc": true}, {"year": 2017, "month": 11, "date": 1, "utc": true}, {"year": 2023, "month": 4, "date": 1, "utc": true}], "labelExpr": "utcFormat(datum.value, '%Y') + 'M' + (utcmonth(datum.value) + 1)",
                    "title": "CDUSDDJP: Model (3) - All Variables", "titleX": 699, "titleY": 143, "titleAlign": "center", "titleBaseline": "middle"}},
                "y": {"field": "v", "type": "quantitative", "scale": {"domain": [-2, 0.5], "nice": false, "zero": false},
                  "axis": {"values": [-2, -1.75, -1.5, -1.25, -1, -0.75, -0.5, -0.25, 0, 0.25, 0.5], "labelExpr": "datum.value % 0.5 == 0 ? (datum.value < 0 ? '-' : '') + format(abs(datum.value), '.1f') : ''", "title": null}},
                "color": {"field": "s", "type": "nominal", "scale": {"domain": ["upper", "coef", "lower", "lower0"], "range": ["#e60000", "#0000f0", "#2ee82e", "#2ee82e"]}, "legend": null},
                "strokeWidth": {"field": "s", "type": "nominal", "scale": {"domain": ["upper", "coef", "lower", "lower0"], "range": [7, 11, 4, 4]}, "legend": null}
              }
            }
          ]
        },
        {
          "width": 1647, "height": 626,
          "title": {"text": ["Coef. of RERP(-1) and its 2 S.E. bands based on recursive OLS", "(Dependent Variable: CDUSDDEM ; Total no. of Regressors: 5)"], "dx": -43, "offset": 62},
          "layer": [
            {"data": {"values": [{}]}, "mark": {"type": "rule", "color": "black", "strokeWidth": 5}, "encoding": {"y": {"datum": 0, "type": "quantitative"}}},
            {
              "data": {"name": "em"},
              "mark": {"type": "line", "strokeJoin": "round"},
              "encoding": {
                "x": {"field": "d", "type": "temporal", "scale": {"type": "utc", "domain": [{"year": 2000, "month": 11, "date": 1, "utc": true}, {"year": 2024, "month": 2, "date": 1, "utc": true}]},
                  "axis": {"values": [{"year": 2000, "month": 11, "date": 1, "utc": true}, {"year": 2006, "month": 7, "date": 1, "utc": true}, {"year": 2012, "month": 3, "date": 1, "utc": true}, {"year": 2017, "month": 11, "date": 1, "utc": true}, {"year": 2023, "month": 4, "date": 1, "utc": true}], "labelExpr": "utcFormat(datum.value, '%Y') + 'M' + (utcmonth(datum.value) + 1)",
                    "title": "CDUSDDEM: Model (3) - All Variables", "titleX": 781, "titleY": 137, "titleAlign": "center", "titleBaseline": "middle"}},
                "y": {"field": "v", "type": "quantitative", "scale": {"domain": [-1, 1.5], "nice": false, "zero": false},
                  "axis": {"values": [-1, -0.75, -0.5, -0.25, 0, 0.25, 0.5, 0.75, 1, 1.25, 1.5], "labelExpr": "datum.value % 0.5 == 0 ? (datum.value < 0 ? '-' : '') + format(abs(datum.value), '.1f') : ''", "title": null}},
                "color": {"field": "s", "type": "nominal", "scale": {"domain": ["upper", "coef", "lower", "lower0"], "range": ["#e60000", "#0000f0", "#2ee82e", "#2ee82e"]}, "legend": null},
                "strokeWidth": {"field": "s", "type": "nominal", "scale": {"domain": ["upper", "coef", "lower", "lower0"], "range": [7, 11, 4, 4]}, "legend": null}
              }
            }
          ]
        }
      ],
      "spacing": 700, "bounds": "flush"
    }
  ],
  "spacing": 188, "bounds": "full", "center": true
}
